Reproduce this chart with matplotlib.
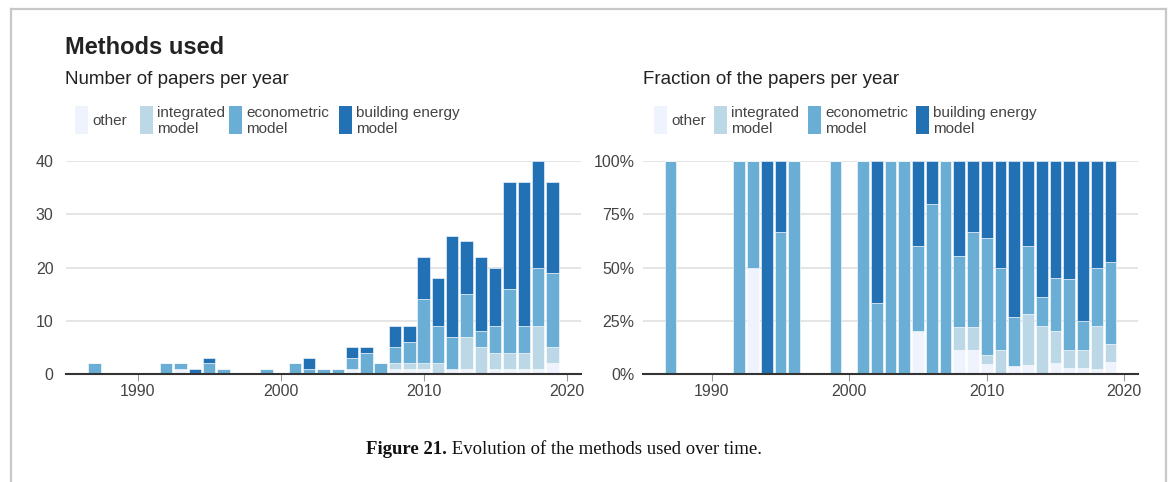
import matplotlib.pyplot as plt
from matplotlib.patches import Rectangle
from matplotlib.lines import Line2D
import numpy as np

W, H = 1170, 482

years = [1987, 1992, 1993, 1994, 1995, 1996, 1999, 2001, 2002, 2003, 2004, 2005, 2006,
         2007, 2008, 2009, 2010, 2011, 2012, 2013, 2014, 2015, 2016, 2017, 2018, 2019]
other = [0, 0, 1, 0, 0, 0, 0, 0, 0, 0, 0, 1, 0,
         0, 1, 1, 1, 0, 1, 1, 0, 1, 1, 1, 1, 2]
integrated = [0, 0, 0, 0, 0, 0, 0, 0, 0, 0, 0, 0, 0,
              0, 1, 1, 1, 2, 0, 6, 5, 3, 3, 3, 8, 3]
econometric = [2, 2, 1, 0, 2, 1, 1, 2, 1, 1, 1, 2, 4,
               2, 3, 4, 12, 7, 6, 8, 3, 5, 12, 5, 11, 14]
building = [0, 0, 0, 1, 1, 0, 0, 0, 2, 0, 0, 2, 1,
            0, 4, 3, 8, 9, 19, 10, 14, 11, 20, 27, 20, 17]

series = [other, integrated, econometric, building]
labels = ["other", "integrated\nmodel", "econometric\nmodel", "building energy\nmodel"]
colors = ["#eef3fd", "#bcd7e6", "#6aaed6", "#2271b4"]

plt.rcParams['font.family'] = ['Liberation Sans', 'DejaVu Sans']


def fx(px):
    return px / W


def fy(py):
    return 1 - py / H


fig = plt.figure(figsize=(W / 100, H / 100), dpi=100)

# frame around the figure, open at the bottom
frame = '#c8c8c8'
fig.add_artist(Line2D([fx(11), fx(11)], [fy(9), -0.05], color=frame, lw=1.6))
fig.add_artist(Line2D([fx(11), fx(1166)], [fy(9), fy(9)], color=frame, lw=1.6))
fig.add_artist(Line2D([fx(1166), fx(1166)], [fy(9), -0.05], color=frame, lw=1.6))

fig.text(fx(65), fy(48), "Methods used", fontsize=17, fontweight='bold', color='#222222', va='center')
fig.text(fx(65), fy(80), "Number of papers per year", fontsize=13.5, color='#222222', va='center')
fig.text(fx(643), fy(80), "Fraction of the papers per year", fontsize=13.5, color='#222222', va='center')


def legend(xs):
    for x, lab, c in zip(xs, labels, colors):
        fig.add_artist(Rectangle((fx(x), fy(134)), fx(13), fy(106) - fy(134), color=c, lw=0))
        fig.text(fx(x + 17), fy(121), lab, fontsize=11, color='#444444', va='center',
                 linespacing=1.15)


legend([75, 140, 229, 339])
legend([654, 714, 808, 916])

y0 = 482 - 374
h = 374 - 161
ax1 = fig.add_axes([fx(66), y0 / H, 515 / W, h / H])
ax2 = fig.add_axes([fx(643), y0 / H, 495 / W, h / H])

counts = np.array(series, dtype=float)
totals = counts.sum(axis=0)
fracs = counts / totals

for ax, data in [(ax1, counts), (ax2, fracs)]:
    bottom = np.zeros(len(years))
    for vals, c in zip(data, colors):
        ax.bar(years, vals, bottom=bottom, width=0.87, color=c, edgecolor='white', linewidth=0.4,
               zorder=2)
        bottom += vals
    ax.set_xlim(1985, 2021)
    ax.set_xticks([1990, 2000, 2010, 2020])
    for s in ['top', 'right', 'left']:
        ax.spines[s].set_visible(False)
    ax.spines['bottom'].set_color('#333333')
    ax.spines['bottom'].set_linewidth(1.5)
    ax.spines['bottom'].set_zorder(3)
    ax.grid(axis='y', color='#e3e3e3', lw=1.3, zorder=0)
    ax.tick_params(axis='y', length=0, labelsize=11.5, labelcolor='#444444')
    ax.tick_params(axis='x', length=5, width=0.8, color='#999999', labelsize=11.5,
                   labelcolor='#444444', pad=2)

ax1.set_ylim(0, 40)
ax1.set_yticks([0, 10, 20, 30, 40])
ax1.tick_params(axis='y', pad=9)
ax2.set_ylim(0, 1)
ax2.set_yticks([0, 0.25, 0.5, 0.75, 1])
ax2.set_yticklabels(["0%", "25%", "50%", "75%", "100%"])
ax2.tick_params(axis='y', pad=6)

t1 = fig.text(fx(366), fy(450), "Figure 21.", fontsize=13.5, fontweight='bold',
              family='Liberation Serif', va='center', color='#111111')
fig.add_artist(plt.Annotation(" Evolution of the methods used over time.", xy=(1, 0.5), xycoords=t1,
                              va='center', fontsize=13.5, family='Liberation Serif', color='#111111'))

fig.savefig("out.png", dpi=100)
